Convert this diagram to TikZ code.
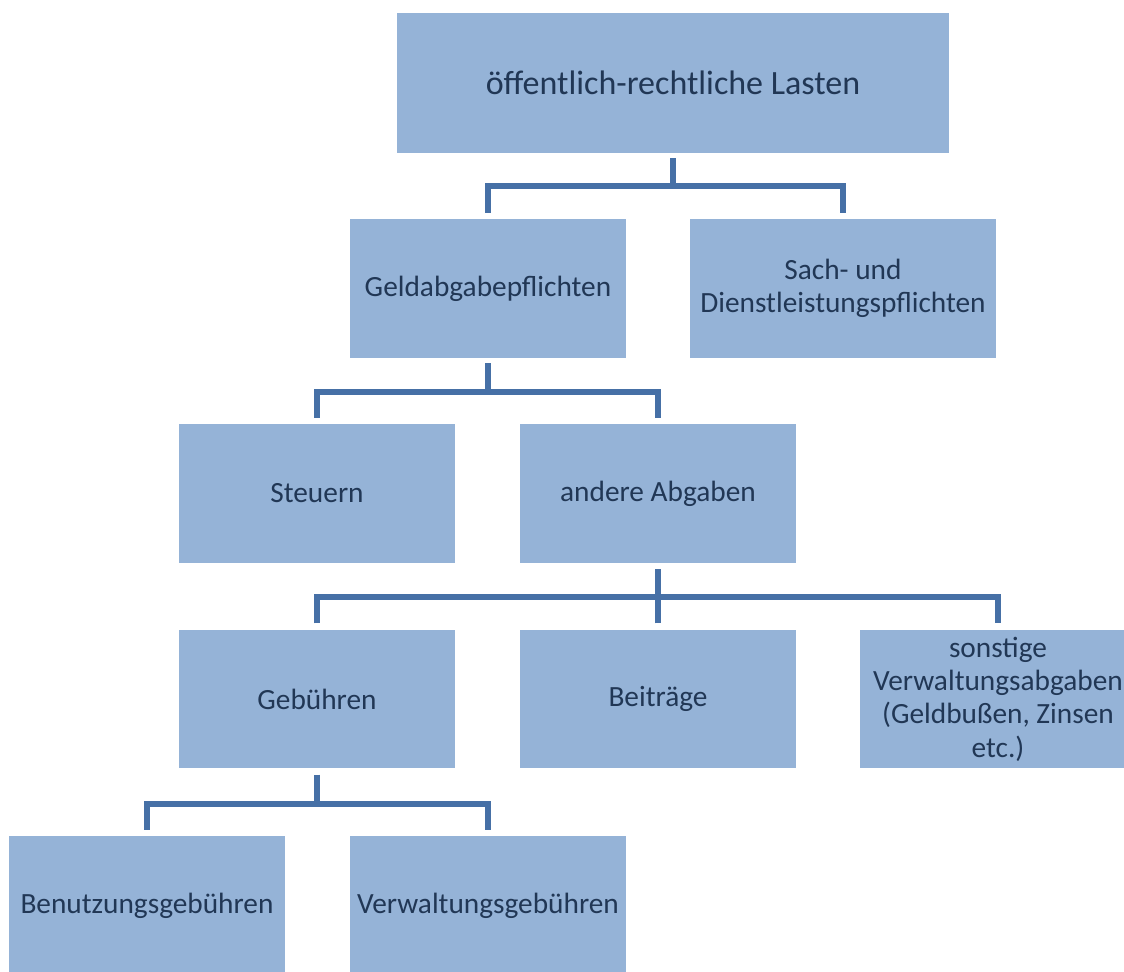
\documentclass[tikz,border=0pt]{standalone}
\usepackage{fontspec}
\setmainfont{Carlito}
\usetikzlibrary{calc}
\definecolor{boxblue}{RGB}{149,179,215}
\definecolor{linkblue}{RGB}{70,112,166}
\definecolor{textnavy}{RGB}{33,55,85}

\begin{document}
\begin{tikzpicture}[x=0.75pt, y=-0.75pt,
    box/.style={fill=boxblue, text=textnavy, minimum width=207pt, minimum height=104pt,
        inner sep=0pt, align=center, font=\fontsize{22}{25}\selectfont},
    link/.style={draw=linkblue, line width=4.5pt}]
    \useasboundingbox (0,0) rectangle (1124,971);
    % Boxes
    \node[box, minimum width=414pt, minimum height=105pt, font=\fontsize{25.5}{28}\selectfont] (lasten) at (673,83) {öffentlich-rechtliche Lasten};
    \node[box] (geld) at (488,288.5) {Geldabgabepflichten};
    \node[box, minimum width=229.5pt] (sach) at (843,288.5) {Sach- und\\Dienstleistungspflichten};
    \node[box] (steuern) at (317,493.5) {Steuern};
    \node[box] (andere) at (658,493.5) {andere Abgaben};
    \node[box] (gebuehren) at (317,699) {Gebühren};
    \node[box] (beitraege) at (658,699) {Beiträge};
    \node[box] (sonstige) at (998,699) {sonstige\\Verwaltungsabgaben\\(Geldbußen, Zinsen\\etc.)};
    \node[box] (benutzung) at (147,905.5) {Benutzungsgebühren};
    \node[box] (verwaltung) at (488,905.5) {Verwaltungsgebühren};
    % Connectors
    \draw[link] ($(lasten.south)+(0,5)$) -- ++(0,28) coordinate (bus1);
    \draw[link] ($(geld.north)+(0,-6)$) |- (bus1) -| ($(sach.north)+(0,-6)$);
    \draw[link] ($(geld.south)+(0,5)$) -- ++(0,29) coordinate (bus2);
    \draw[link] ($(steuern.north)+(0,-6)$) |- (bus2) -| ($(andere.north)+(0,-6)$);
    \draw[link] ($(andere.south)+(0,6)$) -- ++(0,28) coordinate (bus3);
    \draw[link] ($(gebuehren.north)+(0,-6)$) |- (bus3) -| ($(sonstige.north)+(0,-6)$);
    \draw[link] ($(beitraege.north)+(0,-6)$) -- (bus3);
    \draw[link] ($(gebuehren.south)+(0,6)$) -- ++(0,29) coordinate (bus4);
    \draw[link] ($(benutzung.north)+(0,-6)$) |- (bus4) -| ($(verwaltung.north)+(0,-6)$);
\end{tikzpicture}
\end{document}
